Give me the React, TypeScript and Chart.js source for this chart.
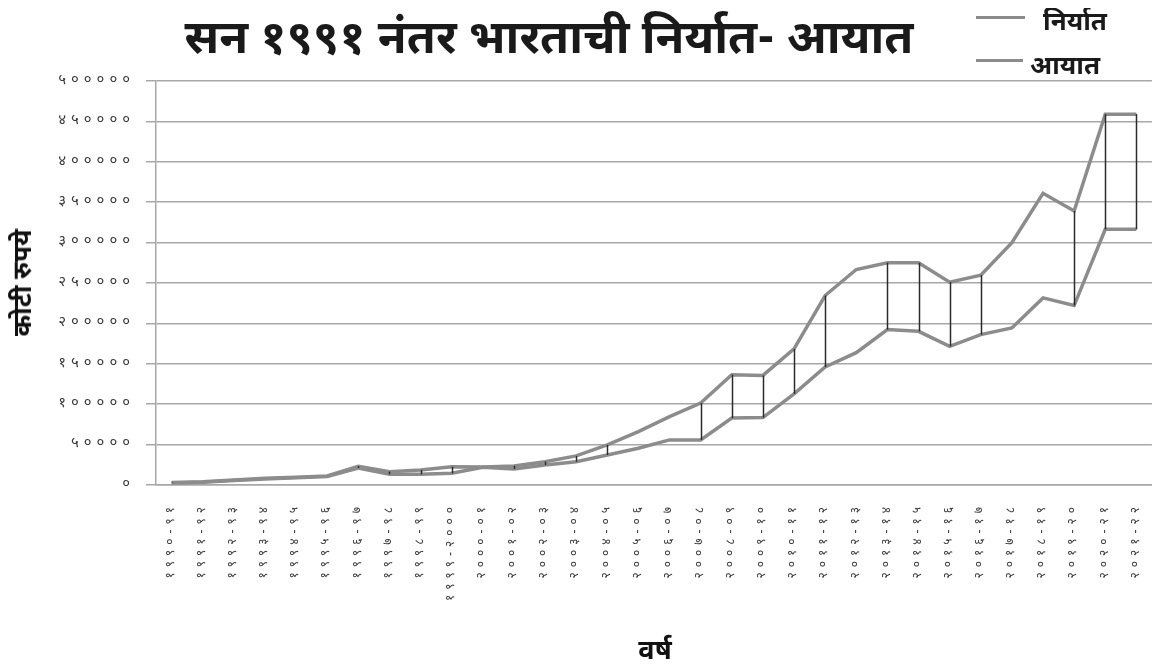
import React, { useEffect, useRef } from 'react';
import { Chart, registerables } from 'chart.js';

Chart.register(...registerables);

const categories = [
  '१९९०-९१', '१९९१-९२', '१९९२-९३', '१९९३-९४', '१९९४-९५', '१९९५-९६', '१९९६-९७', '१९९७-९८',
  '१९९८-९९', '१९९९-२०००', '२०००-०१', '२००१-०२', '२००२-०३', '२००३-०४', '२००४-०५', '२००५-०६',
  '२००६-०७', '२००७-०८', '२००८-०९', '२००९-१०', '२०१०-११', '२०११-१२', '२०१२-१३', '२०१३-१४',
  '२०१४-१५', '२०१५-१६', '२०१६-१७', '२०१७-१८', '२०१८-१९', '२०१९-२०', '२०२०-२१', '२०२१-२२',
];

// निर्यात (exports) – lower line
const exportsValues = [
  2500, 3500, 5500, 7500, 9000, 10500, 21000, 13300,
  13300, 14500, 22000, 19900, 24800, 28900, 37200, 45500,
  55800, 55800, 82800, 83500, 112900, 146000, 163800, 192300,
  190200, 171600, 186100, 194400, 231600, 222100, 316400, 316400,
];

// आयात (imports) – upper line
const importsValues = [
  3000, 4000, 6200, 8300, 9600, 11200, 23300, 16500,
  18600, 22700, 22300, 23600, 28900, 36000, 49600, 66100,
  84700, 101400, 136500, 135600, 168400, 234500, 266700, 275000,
  275000, 251000, 259700, 299900, 361000, 339100, 459000, 459000,
];

const yTicks = [0, 50000, 100000, 150000, 200000, 250000, 300000, 350000, 400000, 450000, 500000];

// categories where a high-low connector is drawn between the two series
const connectorCategories = [
  '१९९०-९१', '१९९६-९७', '१९९७-९८', '१९९८-९९', '१९९९-२०००', '२००१-०२', '२००२-०३', '२००३-०४',
  '२००४-०५', '२००७-०८', '२००८-०९', '२००९-१०', '२०१०-११', '२०११-१२', '२०१३-१४', '२०१४-१५',
  '२०१५-१६', '२०१६-१७', '२०१९-२०', '२०२०-२१', '२०२१-२२',
];

const titleText = 'सन १९९१ नंतर भारताची निर्यात- आयात';
const legendLabels = ['निर्यात', 'आयात'];
const yTitle = 'कोटी रुपये';
const xTitle = 'वर्ष';

const FONT = "'Noto Sans Devanagari', 'Lohit Devanagari', 'Mukta', 'FreeSans', 'Noto Sans', 'DejaVu Sans', sans-serif";
const DEV_DIGITS = '०१२३४५६७८९';
const toDev = (v: number | string) => String(v).replace(/\d/g, (d) => DEV_DIGITS[Number(d)]);

const LINE_COLOR = '#8c8c8c';
const W = 1160;
const H = 653;
const AREA_LEFT = 148;
const AREA_TOP = 73;
const AREA_RIGHT = 1146;
const AREA_BOTTOM = 477;

const tickSpacingPlugin = {
  id: 'tickSpacing',
  beforeUpdate(chart: any) {
    chart.ctx.letterSpacing = '5px';
  },
  beforeDraw(chart: any) {
    chart.ctx.letterSpacing = '5px';
  },
};

const highLowPlugin = {
  id: 'highLow',
  afterDatasetsDraw(chart: any) {
    const { ctx, scales } = chart;
    const x = scales.x;
    const y = scales.y;
    ctx.save();
    ctx.strokeStyle = '#2a2a2a';
    ctx.lineWidth = 1.5;
    connectorCategories.forEach((label) => {
      const i = categories.indexOf(label);
      if (i < 0) return;
      const px = Math.round(x.getPixelForValue(i)) + 0.5;
      ctx.beginPath();
      ctx.moveTo(px, y.getPixelForValue(importsValues[i]));
      ctx.lineTo(px, y.getPixelForValue(exportsValues[i]));
      ctx.stroke();
    });
    ctx.restore();
  },
};

export default function App() {
  const canvasRef = useRef<HTMLCanvasElement | null>(null);

  useEffect(() => {
    if (!canvasRef.current) return;
    const chart = new Chart(canvasRef.current, {
      type: 'line',
      data: {
        labels: categories,
        datasets: [
          {
            label: legendLabels[0],
            data: exportsValues,
            borderColor: LINE_COLOR,
            backgroundColor: LINE_COLOR,
            borderWidth: 3.5,
            pointRadius: 0,
            tension: 0,
            fill: false,
          },
          {
            label: legendLabels[1],
            data: importsValues,
            borderColor: LINE_COLOR,
            backgroundColor: LINE_COLOR,
            borderWidth: 3.5,
            pointRadius: 0,
            tension: 0,
            fill: false,
          },
        ],
      },
      options: {
        animation: false,
        responsive: false,
        maintainAspectRatio: false,
        layout: { padding: { top: AREA_TOP, right: W - AREA_RIGHT, left: 0, bottom: 0 } },
        plugins: {
          legend: { display: false },
          title: { display: false },
          tooltip: { enabled: false },
        },
        scales: {
          x: {
            type: 'category',
            offset: true,
            grid: { display: false, drawTicks: false },
            border: { display: true, color: '#a8a8a8', width: 1.5 },
            afterFit: (scale: any) => {
              scale.height = H - AREA_BOTTOM;
            },
            ticks: {
              autoSkip: false,
              minRotation: 90,
              maxRotation: 90,
              padding: 17,
              color: '#3a3a3a',
              font: { family: FONT, size: 12 },
            },
          },
          y: {
            min: 0,
            max: 500000,
            afterFit: (scale: any) => {
              scale.width = AREA_LEFT;
            },
            afterBuildTicks: (axis: any) => {
              axis.ticks = yTicks.map((v) => ({ value: v }));
            },
            ticks: {
              callback: (v: any) => toDev(v),
              color: '#3a3a3a',
              padding: 11,
              font: { family: FONT, size: 15 },
            },
            grid: {
              color: '#a8a8a8',
              lineWidth: 1.5,
              drawTicks: true,
              tickLength: 10,
            },
            border: { display: true, color: '#a8a8a8', width: 1.5 },
          },
        },
      },
      plugins: [tickSpacingPlugin, highLowPlugin],
    });
    return () => chart.destroy();
  }, []);

  return (
    <div style={{ position: 'relative', width: W, height: H, fontFamily: FONT }}>
      <canvas ref={canvasRef} width={W} height={H} style={{ display: 'block' }} />
      <div
        style={{
          position: 'absolute',
          left: 0,
          width: 1082,
          top: 4,
          textAlign: 'center',
          fontSize: 47,
          fontWeight: 'bold',
          color: '#1a1a1a',
          lineHeight: '60px',
          whiteSpace: 'nowrap',
        }}
      >
        {titleText}
      </div>
      <div style={{ position: 'absolute', left: 968, top: 8, width: 49, height: 3, background: LINE_COLOR }} />
      <div style={{ position: 'absolute', left: 1035, top: -2, fontSize: 26, fontWeight: 'bold', lineHeight: '36px', color: '#1a1a1a', whiteSpace: 'nowrap' }}>
        {legendLabels[0]}
      </div>
      <div style={{ position: 'absolute', left: 968, top: 51, width: 47, height: 3, background: LINE_COLOR }} />
      <div style={{ position: 'absolute', left: 1022, top: 42, fontSize: 26, fontWeight: 'bold', lineHeight: '36px', color: '#1a1a1a', whiteSpace: 'nowrap' }}>
        {legendLabels[1]}
      </div>
      <div
        style={{
          position: 'absolute',
          left: 17,
          top: (AREA_TOP + AREA_BOTTOM) / 2,
          transform: 'translate(-50%, -50%) rotate(-90deg)',
          fontSize: 26,
          fontWeight: 'bold',
          color: '#111',
          whiteSpace: 'nowrap',
          lineHeight: '40px',
        }}
      >
        {yTitle}
      </div>
      <div
        style={{
          position: 'absolute',
          left: (AREA_LEFT + AREA_RIGHT) / 2,
          top: 645,
          transform: 'translate(-50%, -50%)',
          fontSize: 27,
          fontWeight: 'bold',
          color: '#111',
          whiteSpace: 'nowrap',
          lineHeight: '34px',
        }}
      >
        {xTitle}
      </div>
    </div>
  );
}
